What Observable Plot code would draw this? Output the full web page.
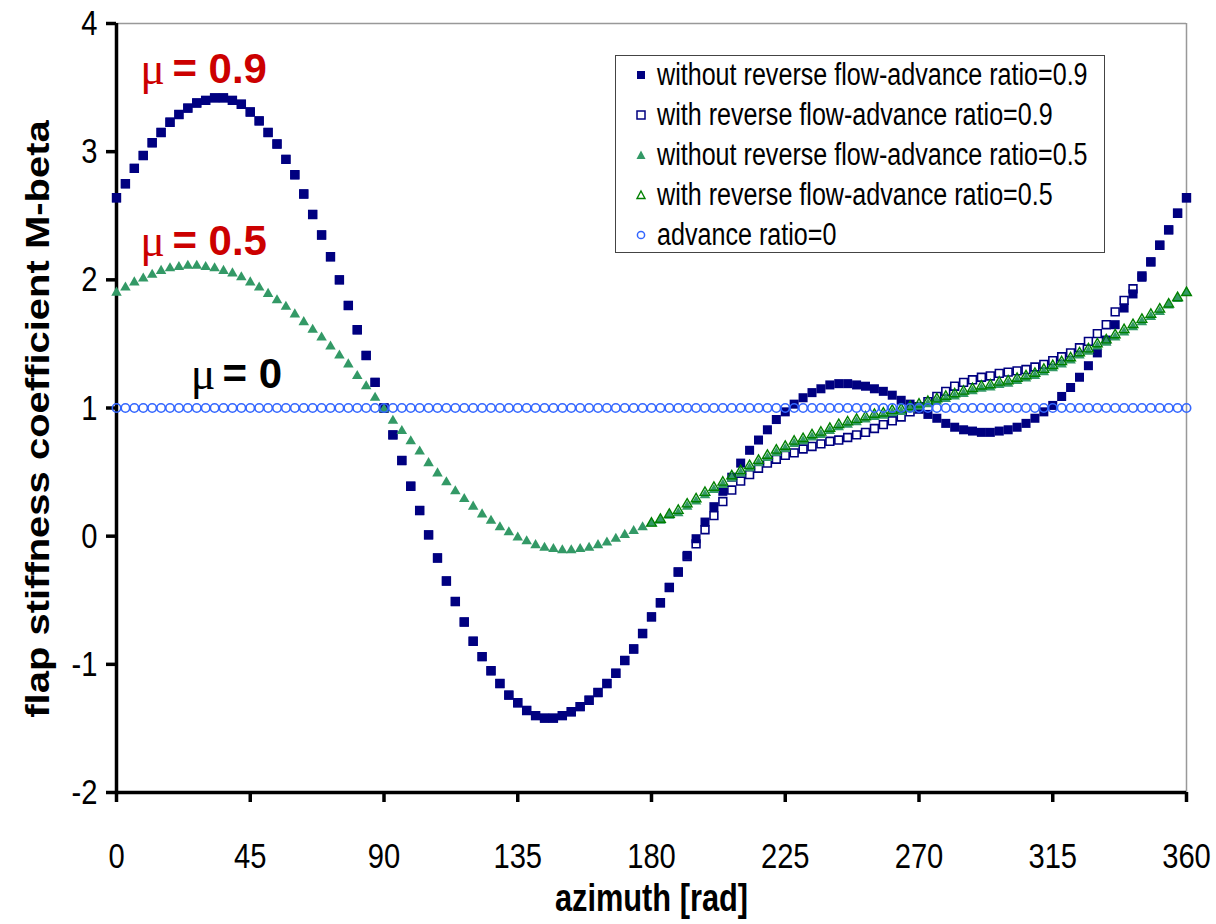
<!DOCTYPE html>
<html><head><meta charset="utf-8">
<script src="https://cdn.jsdelivr.net/npm/d3@7"></script>
<script src="https://cdn.jsdelivr.net/npm/@observablehq/plot@0.6"></script>
<style>
html,body{margin:0;padding:0;background:#fff;}
#wrap{position:relative;width:1216px;height:924px;overflow:hidden;}
#legend{position:absolute;left:615px;top:55px;width:490px;height:198px;border:1.5px solid #444;background:#fff;box-sizing:border-box;font-family:"Liberation Sans",Arial,sans-serif;color:#000;}
.row{position:absolute;left:0;height:30px;display:flex;align-items:center;white-space:nowrap;}
.row svg{margin-left:18px;margin-right:9px;flex:none;}
.row span{display:inline-block;font-size:31px;transform:scaleX(0.81);transform-origin:left center;}
</style></head><body><div id="wrap"><div id="chart"></div><div id="legend"></div></div>
<script>
// azimuth sample points [deg]
const azimuth = [0,3,6,9,12,15,18,21,24,27,30,33,36,39,42,45,48,51,54,57,60,63,66,69,72,75,78,81,84,87,90,93,96,99,102,105,108,111,114,117,120,123,126,129,132,135,138,141,144,147,150,153,156,159,162,165,168,171,174,177,180,183,186,189,192,195,198,201,204,207,210,213,216,219,222,225,228,231,234,237,240,243,246,249,252,255,258,261,264,267,270,273,276,279,282,285,288,291,294,297,300,303,306,309,312,315,318,321,324,327,330,333,336,339,342,345,348,351,354,357,360];

// without reverse flow, advance ratio 0.9
const noRev09 = [2.64,2.75,2.87,2.97,3.07,3.15,3.23,3.29,3.34,3.38,3.40,3.42,3.42,3.40,3.37,3.31,3.24,3.15,3.06,2.94,2.82,2.67,2.51,2.35,2.18,2.00,1.80,1.61,1.41,1.20,1.00,0.79,0.59,0.39,0.20,0.01,-0.17,-0.35,-0.51,-0.67,-0.82,-0.94,-1.05,-1.15,-1.24,-1.30,-1.36,-1.40,-1.42,-1.42,-1.40,-1.37,-1.33,-1.28,-1.22,-1.15,-1.07,-0.97,-0.88,-0.76,-0.63,-0.52,-0.40,-0.28,-0.15,-0.02,0.11,0.23,0.35,0.46,0.57,0.67,0.75,0.83,0.91,0.97,1.03,1.08,1.12,1.15,1.18,1.19,1.19,1.18,1.17,1.15,1.13,1.10,1.06,1.03,0.99,0.95,0.92,0.88,0.85,0.83,0.82,0.81,0.81,0.82,0.83,0.85,0.88,0.92,0.97,1.02,1.09,1.16,1.24,1.33,1.43,1.53,1.65,1.78,1.89,2.02,2.14,2.27,2.39,2.52,2.64];

// with reverse flow, advance ratio 0.9
const rev09 = [2.64,2.75,2.87,2.97,3.07,3.15,3.23,3.29,3.34,3.38,3.40,3.42,3.42,3.40,3.37,3.31,3.24,3.15,3.06,2.94,2.82,2.67,2.51,2.35,2.18,2.00,1.80,1.61,1.41,1.20,1.00,0.79,0.59,0.39,0.20,0.01,-0.17,-0.35,-0.51,-0.67,-0.82,-0.94,-1.05,-1.15,-1.24,-1.30,-1.36,-1.40,-1.42,-1.42,-1.40,-1.37,-1.33,-1.28,-1.22,-1.15,-1.07,-0.97,-0.88,-0.76,-0.63,-0.52,-0.40,-0.28,-0.16,-0.06,0.05,0.16,0.27,0.36,0.43,0.48,0.53,0.57,0.60,0.63,0.65,0.68,0.70,0.72,0.74,0.75,0.77,0.79,0.81,0.84,0.87,0.90,0.93,0.97,1.01,1.05,1.09,1.13,1.17,1.20,1.22,1.24,1.25,1.27,1.28,1.29,1.30,1.32,1.34,1.37,1.40,1.43,1.47,1.52,1.58,1.65,1.75,1.84,1.93,2.03,2.14,2.27,2.39,2.52,2.64];

// without reverse flow, advance ratio 0.5
const noRev05 = [1.90,1.94,1.98,2.01,2.04,2.07,2.09,2.10,2.11,2.11,2.10,2.09,2.07,2.05,2.02,1.98,1.94,1.89,1.84,1.79,1.73,1.67,1.61,1.55,1.48,1.41,1.34,1.25,1.17,1.08,0.99,0.90,0.82,0.74,0.66,0.57,0.49,0.42,0.35,0.29,0.23,0.17,0.12,0.07,0.03,-0.01,-0.04,-0.07,-0.09,-0.10,-0.11,-0.11,-0.10,-0.09,-0.07,-0.05,-0.02,0.01,0.04,0.07,0.10,0.12,0.16,0.18,0.23,0.27,0.32,0.36,0.40,0.45,0.49,0.53,0.57,0.61,0.65,0.68,0.72,0.74,0.77,0.79,0.82,0.85,0.87,0.89,0.91,0.93,0.94,0.96,0.97,0.99,1.01,1.03,1.05,1.07,1.09,1.11,1.13,1.15,1.16,1.18,1.19,1.21,1.23,1.25,1.28,1.31,1.34,1.37,1.41,1.44,1.48,1.51,1.55,1.59,1.63,1.67,1.71,1.75,1.80,1.85,1.90];

// with reverse flow, advance ratio 0.5
const rev05 = [1.90,1.94,1.98,2.01,2.04,2.07,2.09,2.10,2.11,2.11,2.10,2.09,2.07,2.05,2.02,1.98,1.94,1.89,1.84,1.79,1.73,1.67,1.61,1.55,1.48,1.41,1.34,1.25,1.17,1.08,0.99,0.90,0.82,0.74,0.66,0.57,0.49,0.42,0.35,0.29,0.23,0.17,0.12,0.07,0.03,-0.01,-0.04,-0.07,-0.09,-0.10,-0.11,-0.11,-0.10,-0.09,-0.07,-0.05,-0.02,0.01,0.04,0.07,0.10,0.13,0.17,0.20,0.25,0.29,0.34,0.38,0.42,0.47,0.51,0.55,0.59,0.63,0.67,0.70,0.74,0.76,0.79,0.81,0.84,0.87,0.89,0.91,0.93,0.95,0.96,0.98,0.99,1.01,1.03,1.05,1.07,1.09,1.11,1.13,1.15,1.17,1.18,1.20,1.21,1.23,1.25,1.27,1.30,1.33,1.36,1.39,1.43,1.46,1.50,1.53,1.57,1.61,1.65,1.69,1.73,1.77,1.81,1.86,1.90];

// advance ratio 0
const ratio0 = [1,1,1,1,1,1,1,1,1,1,1,1,1,1,1,1,1,1,1,1,1,1,1,1,1,1,1,1,1,1,1,1,1,1,1,1,1,1,1,1,1,1,1,1,1,1,1,1,1,1,1,1,1,1,1,1,1,1,1,1,1,1,1,1,1,1,1,1,1,1,1,1,1,1,1,1,1,1,1,1,1,1,1,1,1,1,1,1,1,1,1,1,1,1,1,1,1,1,1,1,1,1,1,1,1,1,1,1,1,1,1,1,1,1,1,1,1,1,1,1,1];

const seriesNames = [
  "without reverse flow-advance ratio=0.9",
  "with reverse flow-advance ratio=0.9",
  "without reverse flow-advance ratio=0.5",
  "with reverse flow-advance ratio=0.5",
  "advance ratio=0"
];
const xTicks = [0,45,90,135,180,225,270,315,360];
const yTicks = [-2,-1,0,1,2,3,4];
const xTitle = "azimuth [rad]";
const yTitle = "flap stiffness coefficient M-beta";

// in-chart annotations (data coordinates)
const annotText = ["= 0.9", "= 0.5", "= 0"];
const annotMuX = [8, 8, 25];
const annotTextX = [18.8, 18.8, 35.7];
const annotY = [3.64, 2.30, 1.26];
const annotColor = ["#CC0000", "#CC0000", "#000000"];

const rows = (vals) => azimuth.map((x, i) => ({x, y: vals[i]}));
const annots = annotText.map((t, i) => ({t, mx: annotMuX[i], tx: annotTextX[i], y: annotY[i], c: annotColor[i]}));

const chart = Plot.plot({
  width: 1216, height: 924,
  marginTop: 23, marginRight: 30, marginBottom: 132, marginLeft: 116,
  x: {domain: [0, 360], label: null},
  y: {domain: [-2, 4], label: null},
  color: {type: "identity"},
  style: {fontFamily: '"Liberation Sans", Arial, sans-serif', color: "#000", background: "#fff", overflow: "visible"},
  marks: [
    Plot.ruleY([4], {stroke: "#999", strokeWidth: 1.5}),
    Plot.ruleX([360], {stroke: "#999", strokeWidth: 1.5}),
    Plot.ruleX([0], {stroke: "#000", strokeWidth: 3.5}),
    Plot.ruleY([-2], {stroke: "#000", strokeWidth: 3.5}),
    Plot.axisX({ticks: xTicks, tickSize: 10, tickPadding: 40, fontSize: 36, stroke: "#000", strokeWidth: 3.5, tickFormat: d => String(d), label: null}),
    Plot.axisY({ticks: yTicks, tickSize: 10, tickPadding: 9, fontSize: 36, stroke: "#000", strokeWidth: 3.5, tickFormat: d => String(d), label: null}),
    Plot.dot(rows(rev09), {x: "x", y: "y", symbol: "square", r: 4.4, fill: "#fff", stroke: "#000080", strokeWidth: 1.6}),
    Plot.dot(rows(noRev09), {x: "x", y: "y", symbol: "square", r: 5.1, fill: "#000080"}),
    Plot.dot(rows(noRev05), {x: "x", y: "y", symbol: "triangle", r: 3.9, fill: "#339966"}),
    Plot.dot(rows(rev05), {x: "x", y: "y", symbol: "triangle", r: 3.6, fill: "none", stroke: "#008000", strokeWidth: 1.4, filter: d => d.x >= 180}),
    Plot.dot(rows(ratio0), {x: "x", y: "y", symbol: "circle", r: 4.2, fill: "none", stroke: "#3366FF", strokeWidth: 1.6}),
    Plot.text([xTitle], {text: d => d, frameAnchor: "bottom", lineAnchor: "middle", dy: 106, fontSize: 38, fontWeight: "bold"}),
    Plot.text([yTitle], {text: d => d, frameAnchor: "left", textAnchor: "middle", lineAnchor: "middle", rotate: -90, dx: -78, dy: 11, fontSize: 40, fontWeight: "bold"}),
    Plot.text(annots, {x: "mx", y: "y", text: () => "\u03bc", fill: "c", textAnchor: "start", fontSize: 46, fontFamily: '"Liberation Serif", serif'}),
    Plot.text(annots, {x: "tx", y: "y", text: "t", fill: "c", textAnchor: "start", fontSize: 42, fontWeight: "bold"})
  ]
});
document.getElementById("chart").appendChild(chart);

// condense axis texts horizontally (the reference uses a narrow rendering)
const SQUASH = 0.81;
chart.querySelectorAll("text").forEach(t => {
  const s = t.textContent;
  if (s.includes("\u03bc") || s.startsWith("=")) return;
  const bb = t.getBBox();
  const m = t.transform.baseVal.consolidate();
  const mat = m ? m.matrix : chart.createSVGMatrix();
  const pts = [[bb.x, bb.y], [bb.x + bb.width, bb.y], [bb.x, bb.y + bb.height], [bb.x + bb.width, bb.y + bb.height]]
    .map(([x, y]) => mat.a * x + mat.c * y + mat.e);
  const minX = Math.min(...pts), maxX = Math.max(...pts);
  const anchor = getComputedStyle(t).textAnchor;
  const rotated = Math.abs(mat.b) > 0.5;
  const ax = rotated || anchor === "middle" ? (minX + maxX) / 2 : anchor === "end" ? maxX : minX;
  const g = document.createElementNS("http://www.w3.org/2000/svg", "g");
  g.setAttribute("transform", `translate(${ax},0) scale(${SQUASH},1) translate(${-ax},0)`);
  t.parentNode.insertBefore(g, t);
  g.appendChild(t);
});

// legend
const legendRowsY = [19, 59, 99, 139, 179];
const markerSvg = [
  '<svg width="14" height="14"><rect x="3" y="3" width="8" height="8" fill="#000080"/></svg>',
  '<svg width="14" height="14"><rect x="3" y="3" width="8" height="8" fill="#fff" stroke="#000080" stroke-width="1.5"/></svg>',
  '<svg width="14" height="14"><path d="M7,2.5L11.5,11H2.5Z" fill="#339966"/></svg>',
  '<svg width="14" height="14"><path d="M7,3L11,10.5H3Z" fill="#fff" stroke="#008000" stroke-width="1.4"/></svg>',
  '<svg width="14" height="14"><circle cx="7" cy="7" r="3.6" fill="none" stroke="#3366FF" stroke-width="1.5"/></svg>'
];
const legend = document.getElementById("legend");
seriesNames.forEach((name, i) => {
  const row = document.createElement("div");
  row.className = "row";
  row.style.top = (legendRowsY[i] - 15) + "px";
  row.innerHTML = markerSvg[i] + "<span>" + name + "</span>";
  legend.appendChild(row);
});
</script></body></html>
